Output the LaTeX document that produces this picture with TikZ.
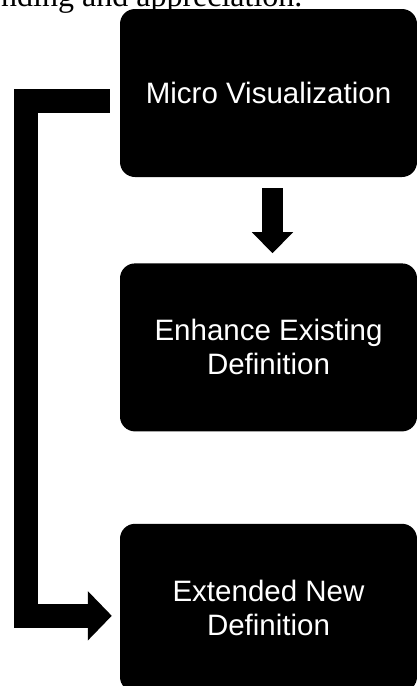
\documentclass[tikz,border=0pt]{standalone}
\usepackage{fontspec}
\setmainfont{Liberation Serif}
\newfontfamily\boxfont{Liberation Sans}
\usetikzlibrary{arrows.meta,positioning}

\begin{document}
\begin{tikzpicture}[x=1pt,y=1pt,
    block/.style={rectangle,rounded corners=15pt,fill=black,text=white,
      minimum width=297pt,minimum height=168pt,inner sep=0pt,align=center,
      font=\boxfont\fontsize{29.5}{34}\selectfont},
    downarrow/.style={line width=21pt,-{Triangle[length=21pt,width=40pt]}},
    sidearrow/.style={line width=24pt,-{Triangle[length=24pt,width=48pt]}}]
  \useasboundingbox (0,0) rectangle (417,-686);
  \clip (0,0) rectangle (417,-686);
  \node[anchor=base west,inner sep=0pt] (caption) at (1,-6)
    {\fontsize{32}{38}\selectfont nding and appreciation.};
  \node[block]        (micro) at (268.5,-93) {Micro Visualization};
  \node[block]        (enhance) [below=86pt of micro] {Enhance Existing\\Definition};
  \node[block]        (extended) [below=92pt of enhance] {Extended New\\Definition};

  \draw[downarrow,shorten <=11pt,shorten >=10pt]
    ([xshift=4pt]micro.south) -- ([xshift=4pt]enhance.north);
  \draw[sidearrow,shorten <=10pt,shorten >=8pt]
    ([yshift=-8pt]micro.west) -- ++(-93.5,0) |- ([yshift=-8pt]extended.west);
\end{tikzpicture}
\end{document}
